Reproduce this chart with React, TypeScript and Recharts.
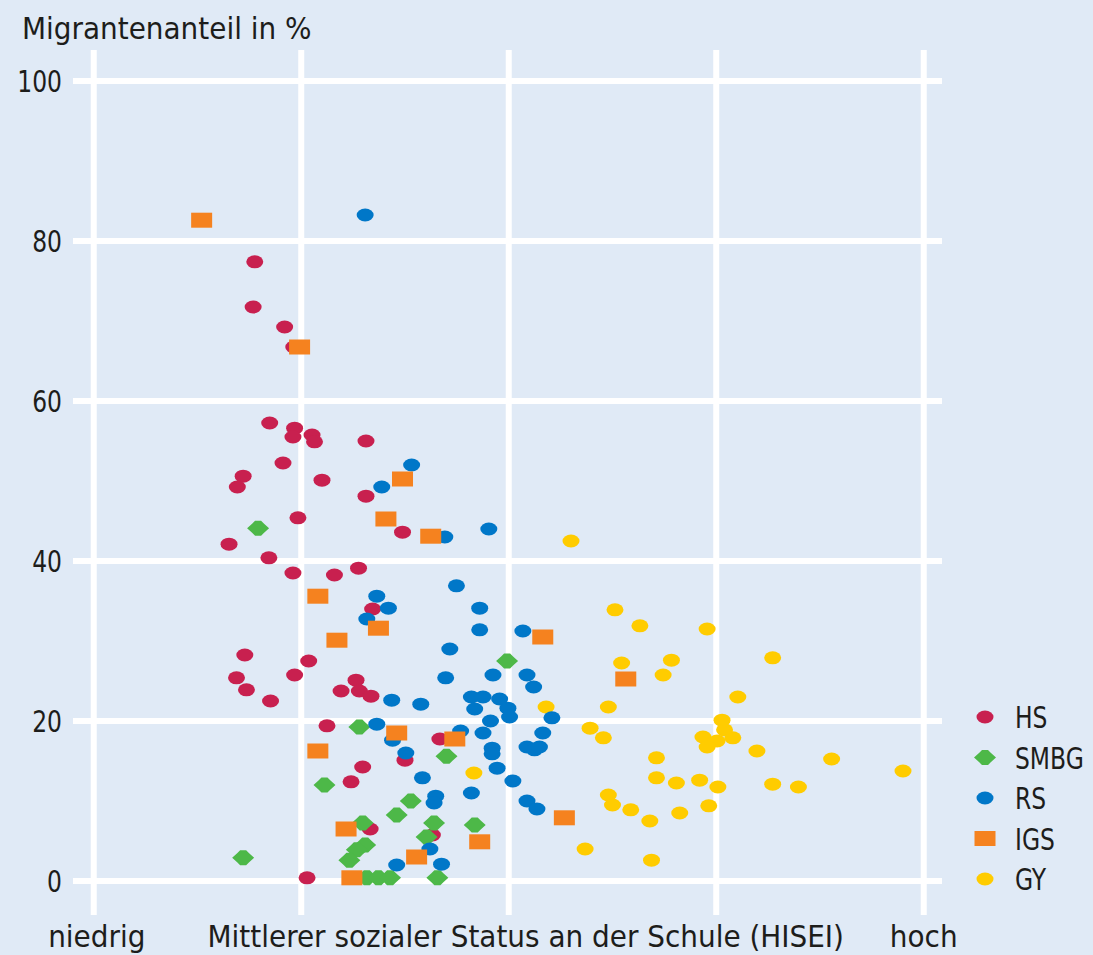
import { ScatterChart, Scatter, XAxis, YAxis, ReferenceLine, Legend } from "recharts";

const font = '"DejaVu Sans Condensed", "DejaVu Sans", sans-serif';
const ink = "#1d1d1b";
const bg = "#e0eaf6";

const yTicks = [0, 20, 40, 60, 80, 100];
const xTicks = [0, 25, 50, 75, 100];
const xTickLabels = ["niedrig", "", "Mittlerer sozialer Status an der Schule (HISEI)", "", "hoch"];

// Hauptschule
const hs: [number, number][] = [
  [19.4, 77.4], [19.2, 71.75], [23.0, 69.25], [24.1, 66.75], [21.2, 57.25],
  [24.2, 56.6], [24.0, 55.5], [26.3, 55.75], [26.6, 54.9], [32.8, 55.0],
  [22.8, 52.25], [18.0, 50.6], [17.3, 49.25], [27.5, 50.1], [32.8, 48.1],
  [24.6, 45.4], [37.2, 43.6], [16.3, 42.1], [21.1, 40.4], [24.0, 38.5],
  [29.0, 38.25], [31.9, 39.1], [33.6, 34.0], [18.2, 28.25], [25.9, 27.5],
  [17.2, 25.4], [24.2, 25.75], [31.6, 25.1], [18.4, 23.9], [21.3, 22.5],
  [29.8, 23.75], [32.0, 23.75], [33.4, 23.1], [28.1, 19.4], [41.7, 17.75],
  [37.5, 15.1], [32.4, 14.25], [31.0, 12.4], [33.3, 6.5], [40.8, 5.75],
  [25.7, 0.4],
];

const smbg: [number, number][] = [
  [19.8, 44.1], [32.0, 19.25], [49.8, 27.5], [42.5, 15.6], [27.8, 12.0],
  [38.2, 10.0], [36.5, 8.25], [32.4, 7.25], [41.0, 7.25], [45.9, 7.0],
  [40.1, 5.5], [32.7, 4.5], [31.7, 3.9], [30.8, 2.6], [18.0, 2.9],
  [32.9, 0.4], [34.3, 0.4], [35.7, 0.4], [41.4, 0.4],
];

// Realschule
const rs: [number, number][] = [
  [32.7, 83.25], [38.3, 52.0], [34.7, 49.25], [42.3, 43.0], [47.6, 44.0],
  [43.7, 36.9], [34.1, 35.6], [35.5, 34.1], [46.5, 34.1], [32.9, 32.75],
  [46.5, 31.4], [51.7, 31.25], [42.9, 29.0], [42.4, 25.4], [48.1, 25.75],
  [52.2, 25.75], [53.0, 24.25], [35.9, 22.6], [39.4, 22.1], [45.5, 23.0],
  [46.9, 23.0], [48.9, 22.75], [45.9, 21.5], [49.9, 21.6], [50.1, 20.5],
  [47.8, 20.0], [55.2, 20.4], [34.1, 19.6], [44.2, 18.75], [46.9, 18.5],
  [54.1, 18.5], [36.0, 17.6], [37.6, 16.0], [48.0, 16.6], [48.0, 15.9],
  [52.2, 16.75], [53.1, 16.4], [53.7, 16.75], [39.6, 12.9], [48.6, 14.1],
  [50.5, 12.5], [41.2, 10.6], [41.0, 9.75], [45.5, 11.0], [52.2, 10.0],
  [53.4, 9.0], [40.5, 4.0], [36.5, 2.0], [41.9, 2.1],
];

// Gesamtschulen
const igs: [number, number][] = [
  [13.0, 82.6], [24.8, 66.75], [37.2, 50.25], [35.2, 45.25], [40.6, 43.1],
  [27.0, 35.6], [34.3, 31.6], [29.3, 30.1], [54.1, 30.5], [64.1, 25.25],
  [36.5, 18.5], [43.5, 17.75], [27.0, 16.25], [56.7, 7.9], [30.4, 6.5],
  [46.5, 4.9], [38.9, 3.0], [31.1, 0.4],
];

// Gymnasium
const gy: [number, number][] = [
  [57.5, 42.5], [62.8, 33.9], [65.8, 31.9], [73.9, 31.5], [63.6, 27.25],
  [69.6, 27.6], [81.8, 27.9], [68.6, 25.75], [77.6, 23.0], [54.5, 21.75],
  [62.0, 21.75], [59.8, 19.1], [61.4, 17.9], [75.7, 20.1], [76.0, 18.9],
  [73.4, 18.0], [75.1, 17.5], [77.0, 17.9], [73.9, 16.75], [79.9, 16.25],
  [88.9, 15.25], [97.5, 13.75], [45.8, 13.5], [67.8, 15.4], [67.8, 12.9],
  [70.2, 12.25], [73.0, 12.6], [75.2, 11.75], [81.8, 12.1], [84.9, 11.75],
  [62.0, 10.75], [62.5, 9.5], [64.7, 8.9], [67.0, 7.5], [70.6, 8.5],
  [74.1, 9.4], [59.2, 4.0], [67.2, 2.6],
];

const series = [
  { name: "HS", data: hs, color: "#c8204f", kind: "dot" },
  { name: "SMBG", data: smbg, color: "#4db848", kind: "diamond" },
  { name: "RS", data: rs, color: "#0077c8", kind: "dot" },
  { name: "IGS", data: igs, color: "#f5821f", kind: "square" },
  { name: "GY", data: gy, color: "#ffcc00", kind: "dot" },
];
const drawOrder = ["GY", "HS", "SMBG", "RS", "IGS"];

function marker(kind: string, color: string, cx: number, cy: number, key?: any) {
  if (kind === "square") {
    return <rect key={key} x={cx - 10.5} y={cy - 7.5} width={21} height={15} fill={color} />;
  }
  if (kind === "diamond") {
    const pts = [
      [-11, 0], [-6, -4.5], [-3, -7.5], [3, -7.5], [6, -4.5],
      [11, 0], [6, 4.5], [3, 7.5], [-3, 7.5], [-6, 4.5],
    ]
      .map(([dx, dy]) => `${cx + dx},${cy + dy}`)
      .join(" ");
    return <polygon key={key} points={pts} fill={color} />;
  }
  return <ellipse key={key} cx={cx} cy={cy} rx={8.5} ry={6.5} fill={color} />;
}

// narrower letters, like the condensed face of the original
const Narrow = ({ x, y, anchor, children }: any) => (
  <g transform={`translate(${x},${y}) scale(0.84,1)`}>
    <text x={0} y={0} textAnchor={anchor} fontSize={31} fontFamily={font} fill={ink}>
      {children}
    </text>
  </g>
);

const XTick = (props: any) => {
  const { x, y, payload } = props;
  const i = xTicks.indexOf(payload.value);
  const label = xTickLabels[i] || "";
  const dx = i === 2 ? 17 : i === 0 ? 3 : 0;
  return (
    <text x={x + dx} y={y + 22} textAnchor="middle" fontSize={31} fontFamily={font} fill={ink}>
      {label}
    </text>
  );
};

const YTick = (props: any) => {
  const { x, y, payload } = props;
  return (
    <Narrow x={x} y={y + 11} anchor="end">
      {payload.value}
    </Narrow>
  );
};

const LegendBox = () => (
  <svg width={123} height={205}>
    {series.map((s, i) => {
      const cy = 20 + i * 40.5;
      return (
        <g key={s.name}>
          {marker(s.kind, s.color, 15, cy)}
          <Narrow x={45} y={cy + 11} anchor="start">
            {s.name}
          </Narrow>
        </g>
      );
    })}
  </svg>
);

export default function App() {
  return (
    <div style={{ position: "absolute", left: 0, top: 0, width: 1093, height: 955, background: bg, fontFamily: font }}>
      <svg width={400} height={50} style={{ position: "absolute", left: 0, top: 0 }}>
        <text x={22} y={39} fontSize={31} fontFamily={font} fill={ink}>
          Migrantenanteil in %
        </text>
      </svg>
      <ScatterChart width={1093} height={955} margin={{ top: 50, right: 151, bottom: 0, left: 13 }}>
        <XAxis
          type="number"
          dataKey="x"
          domain={[-2.5, 102.2]}
          ticks={xTicks}
          allowDataOverflow
          axisLine={false}
          tickLine={false}
          tickSize={0}
          tickMargin={10}
          height={40}
          interval={0}
          tick={<XTick />}
        />
        <YAxis
          type="number"
          dataKey="y"
          domain={[-4.25, 103.875]}
          ticks={yTicks}
          allowDataOverflow
          axisLine={false}
          tickLine={false}
          tickSize={0}
          tickMargin={11}
          width={60}
          interval={0}
          tick={<YTick />}
        />
        {xTicks.map((t) => (
          <ReferenceLine key={"vx" + t} x={t} stroke="#ffffff" strokeWidth={6} />
        ))}
        {yTicks.map((t) => (
          <ReferenceLine key={"hy" + t} y={t} stroke="#ffffff" strokeWidth={6} />
        ))}
        <Legend
          layout="vertical"
          align="center"
          verticalAlign="middle"
          content={<LegendBox />}
          wrapperStyle={{ position: "absolute", left: 970, top: 697, width: 123, height: 205 }}
        />
        {drawOrder.map((name) => {
          const s = series.find((d) => d.name === name)!;
          return (
            <Scatter
              key={s.name}
              name={s.name}
              data={s.data.map(([x, y]) => ({ x, y }))}
              fill={s.color}
              isAnimationActive={false}
              shape={(p: any) => marker(s.kind, s.color, p.cx, p.cy)}
            />
          );
        })}
      </ScatterChart>
    </div>
  );
}
